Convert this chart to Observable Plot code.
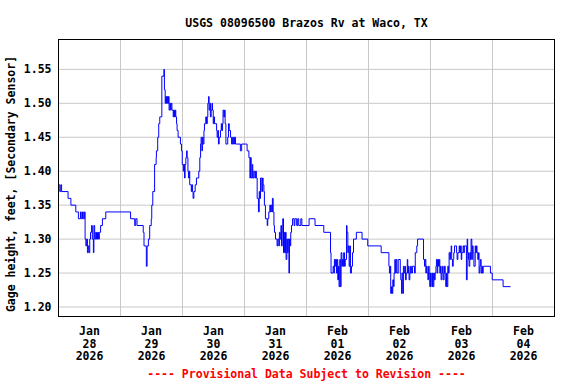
<!DOCTYPE html>
<html><head><meta charset="utf-8">
<script src="https://cdn.jsdelivr.net/npm/d3@7"></script>
<script src="https://cdn.jsdelivr.net/npm/@observablehq/plot@0.6"></script>
<style>body{margin:0;background:#fff;}</style>
</head><body><div id="chart"></div>
<script>
const title = "USGS 08096500 Brazos Rv at Waco, TX";
const yLabel = "Gage height, feet, [Secondary Sensor]";
const caption = "---- Provisional Data Subject to Revision ----";
const startDate = "2026-01-28T00:00Z";
const endDate = "2026-02-05T00:00Z";
const yTicks = [1.20, 1.25, 1.30, 1.35, 1.40, 1.45, 1.50, 1.55];

// hours since Jan 28 00:00 and gage height (ft)
const hoursFromStart = [
0,0.5,0.9,1.2,3.7,4.8,6.7,7.7,8.5,8.8,9.3,9.6,10.1,10.3,10.6,10.9,11.2,11.5,11.8,12.1,
12.4,12.8,13.1,13.5,13.7,14.0,14.4,14.7,15.1,15.5,15.8,16.3,17.0,18.3,27.9,29.5,29.9,30.4,32.8,33.1,
34.0,34.3,34.8,35.3,35.9,36.1,36.5,37.2,37.8,37.9,38.4,38.8,39.2,40.0,40.8,41.0,41.3,41.5,41.8,42.1,
42.3,42.6,42.8,43.1,43.4,43.6,43.9,44.4,44.6,44.9,45.2,45.4,45.7,45.9,46.3,47.2,47.6,47.9,48.3,48.5,
48.8,49.0,49.3,49.6,49.8,50.1,50.3,50.6,50.8,51.4,51.6,51.9,52.1,52.4,52.9,53.4,54.3,54.7,55.0,55.2,
55.5,55.7,56.0,56.3,56.5,57.0,57.3,57.6,57.8,58.1,58.3,58.6,58.8,59.1,59.4,59.6,59.9,60.1,60.4,61.2,
61.4,61.7,61.9,62.2,62.7,63.0,63.2,63.5,63.7,64.0,64.3,64.5,64.8,65.5,65.8,66.1,66.6,67.0,67.4,67.7,
68.1,68.5,70.4,70.9,72.5,73.0,73.7,74.1,74.3,74.6,75.0,75.2,75.6,76.0,76.3,76.6,76.9,77.4,77.7,77.9,
78.2,78.7,79.0,79.2,79.5,79.7,80.1,80.8,81.0,81.4,81.8,82.1,82.3,82.6,82.8,83.1,83.4,83.6,84.0,84.6,
84.9,85.3,85.5,85.8,86.1,86.3,86.6,86.8,87.1,87.4,87.6,87.9,88.1,88.4,88.6,88.9,89.2,89.4,89.7,89.9,
90.2,90.6,91.2,91.5,92.2,92.6,93.0,93.8,94.2,97.0,99.3,102.7,105.3,105.5,106.3,106.6,106.8,107.1,107.3,107.6,
107.9,108.1,108.4,108.6,108.9,109.1,109.4,109.7,109.9,110.2,110.4,110.7,111.0,111.5,111.7,112.0,112.2,112.5,112.8,113.0,
113.4,113.8,114.2,115.3,117.5,119.7,124.9,127.9,128.1,128.4,128.6,128.9,129.2,129.4,129.7,129.9,130.2,130.4,130.7,131.0,
131.5,132.3,132.5,132.8,133.0,133.3,133.5,133.8,134.1,134.3,134.6,135.0,135.2,135.5,135.7,136.0,136.3,136.6,137.0,137.8,
138.1,138.7,139.0,141.3,141.7,141.9,142.2,142.4,142.7,143.0,143.2,143.5,143.7,144.0,144.3,144.5,144.8,145.0,145.3,145.5,
145.8,146.1,146.3,146.6,146.8,147.1,147.4,147.6,147.9,148.1,148.4,148.6,148.9,149.2,149.4,149.7,149.9,150.2,150.4,150.7,
151.0,151.2,151.5,151.7,152.0,152.2,152.5,152.8,153.0,153.3,154.1,154.3,154.6,155.1,155.3,155.6,155.9,156.1,156.6,156.9,
157.1,157.9,158.2,158.4,158.7,158.9,159.2,159.5,159.7,160.0,160.2,160.5,160.8,161.3,161.5,161.8,162.0,162.3,162.6,162.8,
163.1,163.3,163.6,163.9,164.1,164.4,167.2,167.9,172.1,174.9
];
const gageHeight = [
1.38,1.37,1.38,1.37,1.36,1.35,1.34,1.33,1.34,1.33,1.34,1.33,1.34,1.30,1.29,1.30,1.28,1.29,1.28,1.30,
1.31,1.32,1.30,1.28,1.32,1.30,1.31,1.30,1.31,1.30,1.31,1.32,1.33,1.34,1.33,1.32,1.33,1.32,1.31,1.29,
1.26,1.29,1.30,1.32,1.33,1.35,1.37,1.41,1.42,1.43,1.45,1.47,1.48,1.54,1.55,1.52,1.50,1.51,1.50,1.51,
1.50,1.51,1.49,1.50,1.49,1.50,1.49,1.48,1.49,1.48,1.49,1.48,1.47,1.46,1.45,1.44,1.43,1.41,1.40,1.41,
1.39,1.41,1.42,1.43,1.42,1.40,1.39,1.40,1.38,1.37,1.38,1.37,1.36,1.37,1.38,1.39,1.40,1.42,1.44,1.45,
1.43,1.45,1.44,1.46,1.47,1.48,1.47,1.48,1.50,1.51,1.49,1.50,1.48,1.49,1.50,1.49,1.47,1.48,1.47,1.46,
1.45,1.46,1.44,1.45,1.46,1.47,1.46,1.47,1.49,1.48,1.49,1.47,1.44,1.45,1.47,1.46,1.45,1.44,1.45,1.44,
1.45,1.44,1.43,1.44,1.44,1.43,1.42,1.39,1.42,1.39,1.41,1.39,1.40,1.39,1.40,1.39,1.36,1.34,1.37,1.36,
1.39,1.37,1.39,1.38,1.37,1.35,1.33,1.32,1.33,1.34,1.35,1.34,1.35,1.34,1.36,1.34,1.32,1.31,1.30,1.29,
1.30,1.29,1.31,1.30,1.32,1.29,1.31,1.33,1.28,1.31,1.28,1.31,1.27,1.30,1.28,1.30,1.25,1.30,1.29,1.31,
1.32,1.33,1.32,1.33,1.32,1.33,1.32,1.33,1.32,1.33,1.32,1.31,1.28,1.25,1.26,1.25,1.27,1.26,1.27,1.25,
1.27,1.24,1.26,1.23,1.27,1.23,1.28,1.26,1.27,1.26,1.28,1.26,1.27,1.32,1.31,1.28,1.29,1.26,1.29,1.25,
1.26,1.28,1.30,1.31,1.30,1.29,1.28,1.26,1.25,1.26,1.22,1.23,1.22,1.24,1.23,1.25,1.27,1.25,1.27,1.25,
1.27,1.25,1.24,1.22,1.25,1.22,1.26,1.25,1.26,1.24,1.25,1.27,1.25,1.26,1.24,1.25,1.26,1.25,1.26,1.25,
1.28,1.29,1.30,1.27,1.26,1.27,1.25,1.26,1.25,1.24,1.26,1.25,1.23,1.25,1.24,1.23,1.25,1.23,1.25,1.24,
1.25,1.26,1.27,1.25,1.27,1.26,1.27,1.25,1.26,1.24,1.25,1.26,1.24,1.25,1.26,1.24,1.23,1.25,1.23,1.26,
1.25,1.28,1.27,1.28,1.29,1.27,1.26,1.27,1.28,1.29,1.28,1.27,1.28,1.29,1.28,1.29,1.27,1.28,1.29,1.28,
1.29,1.24,1.30,1.28,1.27,1.26,1.28,1.27,1.30,1.27,1.29,1.28,1.26,1.29,1.28,1.29,1.28,1.27,1.28,1.25,
1.26,1.27,1.25,1.26,1.25,1.26,1.25,1.24,1.23,1.23
];

const t0 = new Date(startDate);
const t1 = new Date(endDate);
const data = hoursFromStart.map((h, i) => ({date: new Date(+t0 + h * 3600e3), value: gageHeight[i]}));
const dayBounds = d3.utcDay.range(t0, new Date(+t1 + 1));
const noonTicks = d3.utcDay.range(t0, t1).map(d => d3.utcHour.offset(d, 12));

const chart = Plot.plot({
  width: 576, height: 384,
  marginLeft: 58, marginRight: 22, marginTop: 39, marginBottom: 68,
  style: {fontFamily: "'DejaVu Sans Mono', monospace", fontSize: "11.5px", fontWeight: "bold", background: "#fff", color: "#000"},
  x: {type: "utc", domain: [t0, t1]},
  y: {domain: [1.186, 1.594]},
  marks: [
    Plot.gridX(dayBounds, {stroke: "#c8c8c8", strokeOpacity: 1}),
    Plot.gridY(yTicks, {stroke: "#c8c8c8", strokeOpacity: 1}),
    Plot.line(data, {x: "date", y: "value", curve: "step-after", stroke: "#0000ff", strokeWidth: 1}),
    Plot.frame({stroke: "#000"}),
    Plot.axisX(noonTicks, {tickSize: 0, tickPadding: 9, tickFormat: d3.utcFormat("%b\n%d\n%Y"), lineHeight: 1.12, label: null}),
    Plot.axisY(yTicks, {tickSize: 0, tickPadding: 7, tickFormat: d3.format(".2f"), label: null}),
    Plot.text([yLabel], {frameAnchor: "left", textAnchor: "middle", lineAnchor: "middle", rotate: -90, dx: -47, dy: 6}),
    Plot.text([title], {frameAnchor: "top", dy: -21}),
    Plot.text([caption], {frameAnchor: "bottom", dy: 61, fill: "#ff0000"})
  ]
});
document.getElementById("chart").append(chart);
</script>
</body></html>
